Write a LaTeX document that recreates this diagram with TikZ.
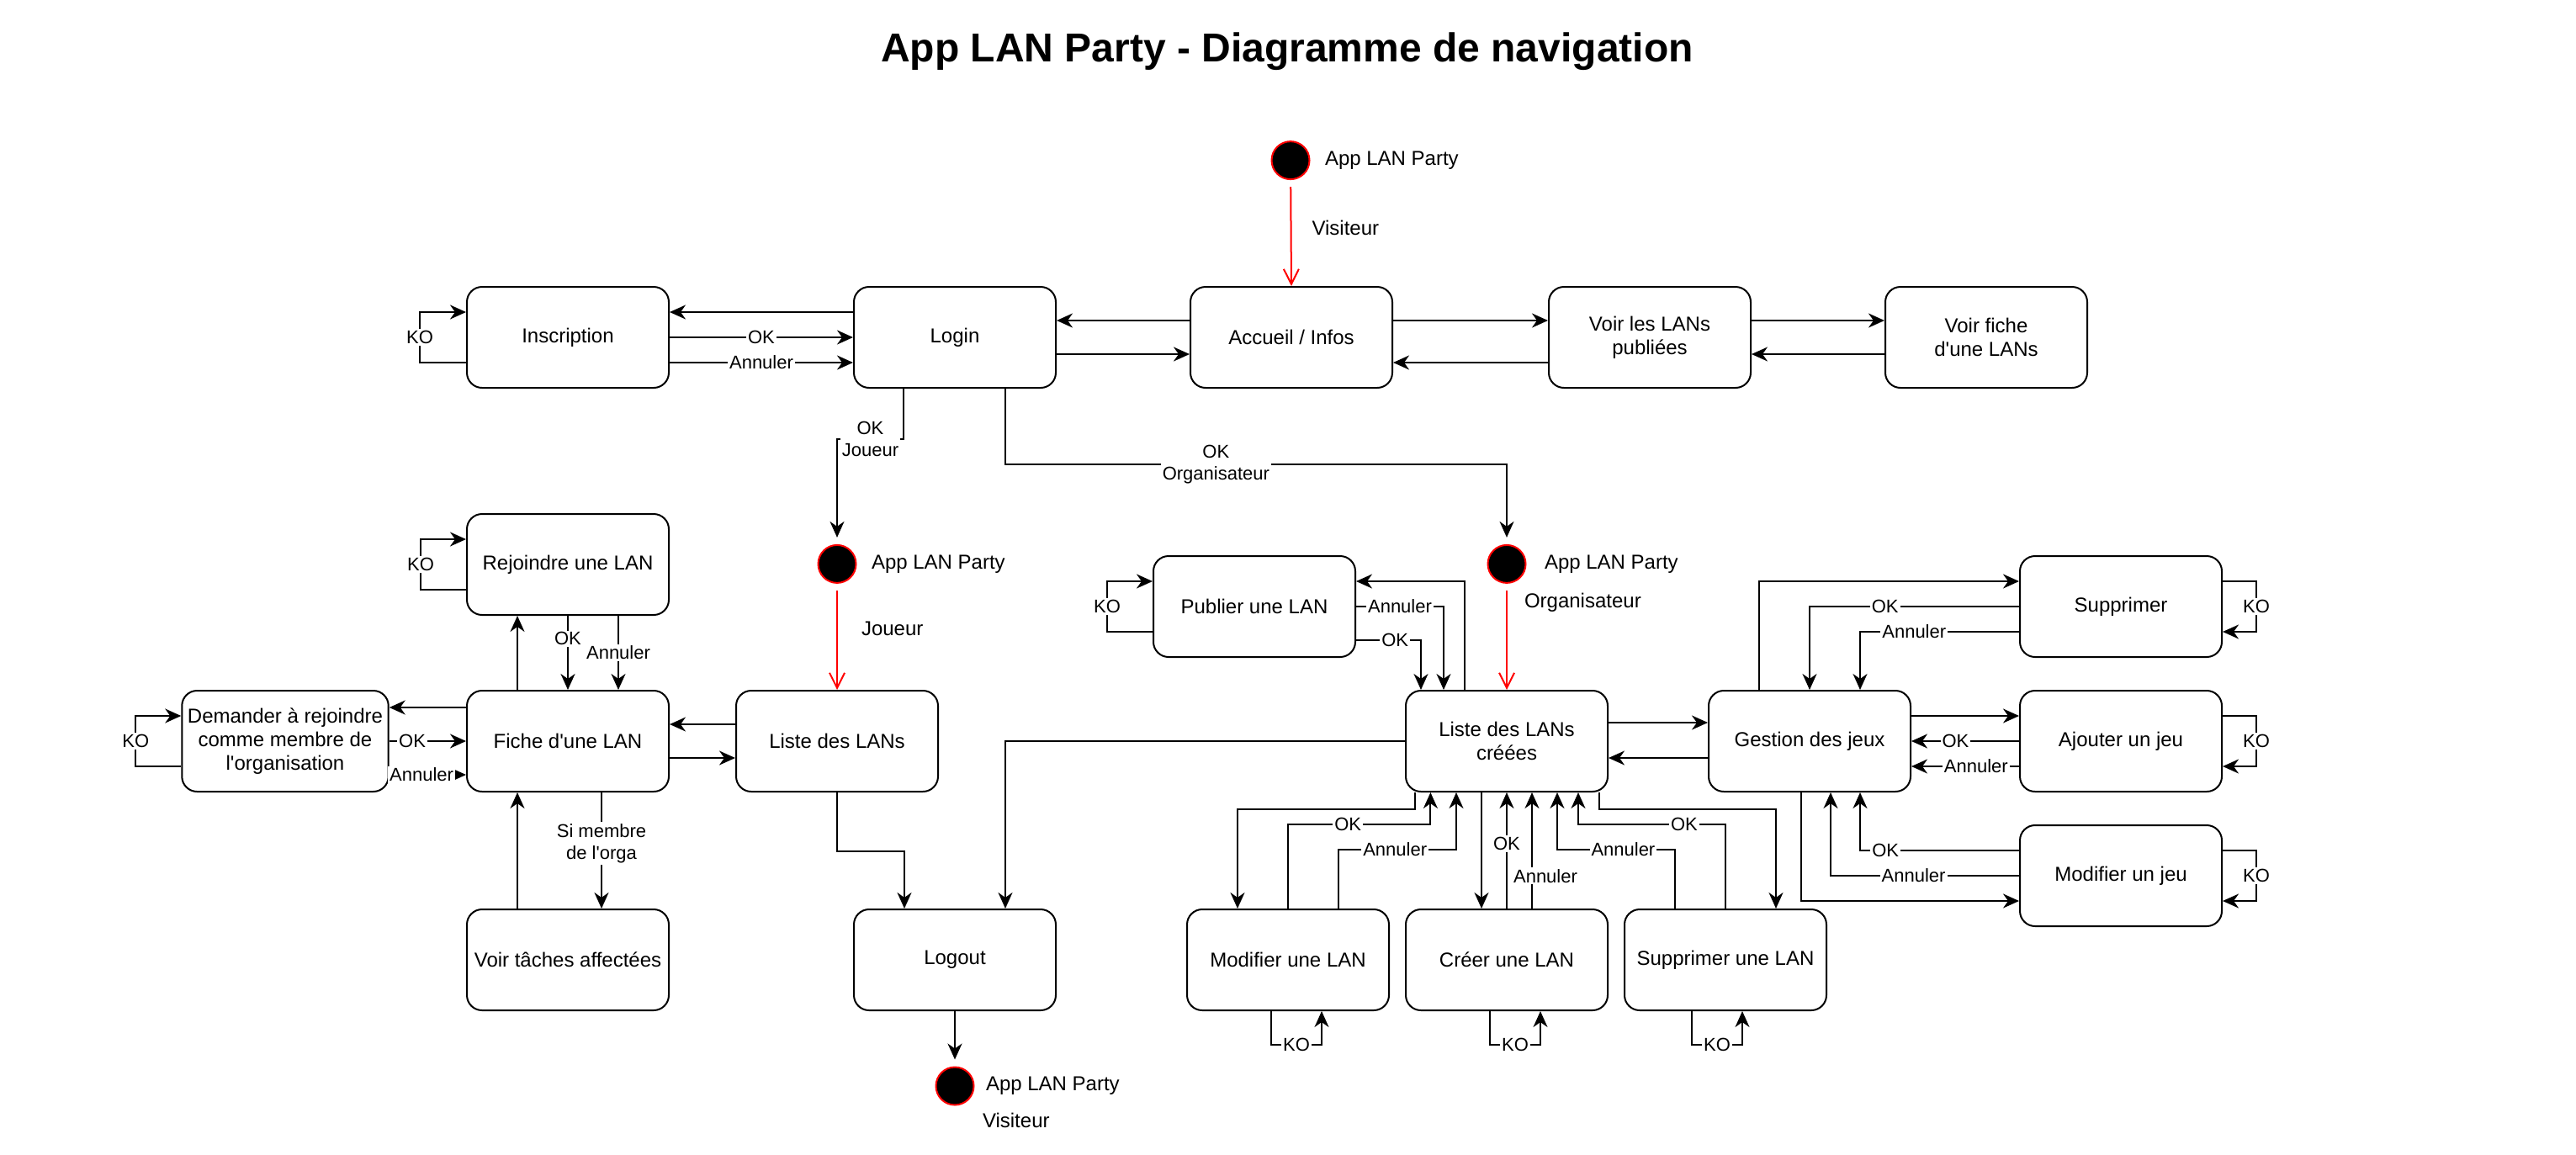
\documentclass[tikz,border=0pt]{standalone}
\usepackage{fontspec}
\setmainfont{Liberation Sans}
\usepackage{tikz}
\usetikzlibrary{arrows.meta, positioning}
\tikzstyle{screen} = [rectangle, draw, rounded corners=9pt, minimum width=120pt, minimum height=60pt, align=center, font=\fontsize{12}{14}\selectfont]
\tikzstyle{startdot} = [circle, draw=red, fill=black, minimum size=22.5pt, inner sep=0pt]
\tikzstyle{caption} = [inner sep=1pt, text=black, font=\fontsize{12}{14}\selectfont]
\tikzstyle{lbl} = [fill=white, inner sep=1pt, align=center, font=\fontsize{11}{13}\selectfont]
\tikzstyle{redarrow} = [red, -{Straight Barb[length=9pt, width=9pt]}, shorten <=4pt]

\begin{document}
\begin{tikzpicture}[x=1pt, y=1pt, line width=1pt, >={Stealth[length=9.5pt, width=8.5pt, inset=3pt]}]

        \useasboundingbox (0,0) rectangle (1531,-686);

        \node[font=\bfseries\fontsize{24}{28}\selectfont] (Title) at (765,-30.5) {App LAN Party - Diagramme de navigation};

        % visiteur
        \node[startdot] (Start) at (767,-95.3) {};
        \node[caption, anchor=west] at (786,-95.3) {App LAN Party};
        \node[screen] at (337.5, -200.5) (Inscription) {Inscription};
        \node[screen] at (567.5, -200.5) (Login) {Login};
        \node[screen] at (767.5, -200.5) (Accueil) {Accueil / Infos};
        \node[screen] at (980.5, -200.5) (VoirLans) {Voir les LANs\\publiées};
        \node[screen] at (1180.5, -200.5) (VoirFiche) {Voir fiche\\d\textquotesingle une LANs};

        % joueur
        \node[startdot] (StartJoueur) at (497.5,-335.2) {};
        \node[caption, anchor=west] at (516.5,-335.2) {App LAN Party};
        \node[screen] at (337.5, -335.5) (Rejoindre) {Rejoindre une LAN};
        \node[screen] at (169.5, -440.5) (Demander) {Demander à rejoindre\\comme membre de\\l\textquotesingle organisation};
        \node[screen] at (337.5, -440.5) (Fiche) {Fiche d\textquotesingle une LAN};
        \node[screen] at (497.5, -440.5) (ListeLans) {Liste des LANs};
        \node[screen] at (337.5, -570.5) (VoirTaches) {Voir tâches affectées};
        \node[screen] at (567.5, -570.5) (Logout) {Logout};
        \node[startdot] (EndVisiteur) at (567.5,-645.5) {};
        \node[caption, anchor=west] at (584.5,-645.5) {App LAN Party};
        \node[caption, anchor=west] at (582.5,-665.7) {Visiteur};

        % organisateur
        \node[startdot] (StartOrga) at (895.5,-335.2) {};
        \node[caption, anchor=west] at (916.5,-335.2) {App LAN Party};
        \node[screen] at (745.5, -360.5) (Publier) {Publier une LAN};
        \node[screen] at (895.5, -440.5) (ListeCreees) {Liste des LANs\\créées};
        \node[screen] at (1075.5, -440.5) (Gestion) {Gestion des jeux};
        \node[screen] at (1260.5, -360.5) (SupprimerJeu) {Supprimer};
        \node[screen] at (1260.5, -440.5) (AjouterJeu) {Ajouter un jeu};
        \node[screen] at (1260.5, -520.5) (ModifierJeu) {Modifier un jeu};
        \node[screen] at (765.5, -570.5) (ModifierLan) {Modifier une LAN};
        \node[screen] at (895.5, -570.5) (CreerLan) {Créer une LAN};
        \node[screen] at (1025.5, -570.5) (SupprimerLan) {Supprimer une LAN};

        % haut
        \draw[redarrow] (Start) -- node[caption, pos=0.45, right=11pt]{Visiteur} (Accueil.north);
        \draw[->] ([yshift=15pt]Login.west) -- ([yshift=15pt]Inscription.east);
        \draw[->] (Inscription.east) -- node[lbl]{OK} (Login.west);
        \draw[->] ([yshift=-15pt]Inscription.east) -- node[lbl]{Annuler} ([yshift=-15pt]Login.west);
        \draw[->] ([yshift=-15pt]Inscription.west) -- ++(-27.5,0) -- node[lbl]{KO} ++(0,30) -- ([yshift=15pt]Inscription.west);
        \draw[->] ([yshift=10pt]Accueil.west) -- ([yshift=10pt]Login.east);
        \draw[->] ([yshift=-10pt]Login.east) -- ([yshift=-10pt]Accueil.west);
        \draw[->] ([yshift=10pt]Accueil.east) -- ([yshift=10pt]VoirLans.west);
        \draw[->] ([yshift=-15pt]VoirLans.west) -- ([yshift=-15pt]Accueil.east);
        \draw[->] ([yshift=10pt]VoirLans.east) -- ([yshift=10pt]VoirFiche.west);
        \draw[->] ([yshift=-10pt]VoirFiche.west) -- ([yshift=-10pt]VoirLans.east);
        \draw[->, shorten >=4pt] ([xshift=-30.5pt]Login.south) -- ++(0,-30) -| node[lbl, pos=0.25]{OK\\Joueur} (StartJoueur.north);
        \draw[->, shorten >=4pt] ([xshift=30pt]Login.south) -- ++(0,-45) -| node[lbl, pos=0.21]{OK\\Organisateur} (StartOrga.north);

        % joueur
        \draw[redarrow] (StartJoueur) -- node[caption, pos=0.42, right=13pt]{Joueur} (ListeLans.north);
        \draw[->] ([xshift=-30pt]Fiche.north) -- ([xshift=-30pt]Rejoindre.south);
        \draw[->] (Rejoindre.south) -- node[lbl, pos=0.31]{OK} (Fiche.north);
        \draw[->] ([xshift=30pt]Rejoindre.south) -- node[lbl]{Annuler} ([xshift=30pt]Fiche.north);
        \draw[->] ([yshift=-15pt]Rejoindre.west) -- ++(-27,0) -- node[lbl]{KO} ++(0,30) -- ([yshift=15pt]Rejoindre.west);
        \draw[->] ([yshift=20pt]Fiche.west) -- ([yshift=20pt]Demander.east);
        \draw[->] (Demander.east) -- node[lbl, pos=0.3]{OK} (Fiche.west);
        \draw[->] ([yshift=-20pt]Demander.east) -- node[lbl, pos=0.42]{Annuler} ([yshift=-20pt]Fiche.west);
        \draw[->] ([yshift=-15pt]Demander.west) -- ++(-27,0) -- node[lbl]{KO} ++(0,30) -- ([yshift=15pt]Demander.west);
        \draw[->] ([yshift=10pt]ListeLans.west) -- ([yshift=10pt]Fiche.east);
        \draw[->] ([yshift=-10pt]Fiche.east) -- ([yshift=-10pt]ListeLans.west);
        \draw[->] ([xshift=-30pt]VoirTaches.north) -- ([xshift=-30pt]Fiche.south);
        \draw[->] ([xshift=20pt]Fiche.south) -- node[lbl, pos=0.44]{Si membre\\de l\textquotesingle orga} ([xshift=20pt]VoirTaches.north);
        \draw[->] (ListeLans.south) -- ++(0,-35) -| ([xshift=-30pt]Logout.north);
        \draw[->] (ListeCreees.west) -| ([xshift=30pt]Logout.north);
        \draw[->, shorten >=4pt] (Logout.south) -- (EndVisiteur.north);

        % organisateur
        \draw[redarrow] (StartOrga) -- node[caption, pos=0.18, right=9pt]{Organisateur} (ListeCreees.north);
        \draw[->] ([yshift=-15pt]Publier.west) -- ++(-27,0) -- node[lbl]{KO} ++(0,30) -- ([yshift=15pt]Publier.west);
        \draw[->] ([xshift=-25pt]ListeCreees.north) |- ([yshift=15pt]Publier.east);
        \draw[->] (Publier.east) -| node[lbl, pos=0.25]{Annuler} ([xshift=-37.5pt]ListeCreees.north);
        \draw[->] ([yshift=-20pt]Publier.east) -| node[lbl, pos=0.3]{OK} ([xshift=-51pt]ListeCreees.north);
        \draw[->] ([yshift=11pt]ListeCreees.east) -- ([yshift=11pt]Gestion.west);
        \draw[->] ([yshift=-10pt]Gestion.west) -- ([yshift=-10pt]ListeCreees.east);

        \draw[->] ([xshift=-54.75pt]ListeCreees.south) -- ++(0,-10) -| ([xshift=-30pt]ModifierLan.north);
        \draw[->] (ModifierLan.north) -- ++(0,50) -| node[lbl, pos=0.21]{OK} ([xshift=-45.3pt]ListeCreees.south);
        \draw[->] ([xshift=30pt]ModifierLan.north) -- ++(0,35) -| node[lbl, pos=0.24]{Annuler} ([xshift=-30pt]ListeCreees.south);
        \draw[->] ([xshift=-15pt]ListeCreees.south) -- ([xshift=-15pt]CreerLan.north);
        \draw[->] (CreerLan.north) -- node[lbl, pos=0.56]{OK} (ListeCreees.south);
        \draw[->] ([xshift=15pt]CreerLan.north) -- node[lbl, pos=0.28, xshift=8pt]{Annuler} ([xshift=15pt]ListeCreees.south);
        \draw[->] ([xshift=55pt]ListeCreees.south) -- ++(0,-10) -| ([xshift=30pt]SupprimerLan.north);
        \draw[->] (SupprimerLan.north) -- ++(0,50) -| node[lbl, pos=0.14]{OK} ([xshift=42.5pt]ListeCreees.south);
        \draw[->] ([xshift=-30pt]SupprimerLan.north) -- ++(0,35) -| node[lbl, pos=0.22]{Annuler} ([xshift=30pt]ListeCreees.south);
        \draw[->] ([xshift=-10pt]ModifierLan.south) -- ++(0,-20) -- node[lbl]{KO} ++(30,0) -- ([xshift=20pt]ModifierLan.south);
        \draw[->] ([xshift=-10pt]CreerLan.south) -- ++(0,-20) -- node[lbl]{KO} ++(30,0) -- ([xshift=20pt]CreerLan.south);
        \draw[->] ([xshift=-20pt]SupprimerLan.south) -- ++(0,-20) -- node[lbl]{KO} ++(30,0) -- ([xshift=10pt]SupprimerLan.south);

        % jeux
        \draw[->] ([xshift=-30pt]Gestion.north) |- ([yshift=15pt]SupprimerJeu.west);
        \draw[->] (SupprimerJeu.west) -| node[lbl, pos=0.32]{OK} (Gestion.north);
        \draw[->] ([yshift=-15pt]SupprimerJeu.west) -| node[lbl, pos=0.33]{Annuler} ([xshift=30pt]Gestion.north);
        \draw[->] ([yshift=15pt]SupprimerJeu.east) -- ++(20,0) -- node[lbl]{KO} ++(0,-30) -- ([yshift=-15pt]SupprimerJeu.east);
        \draw[->] ([yshift=15pt]Gestion.east) -- ([yshift=15pt]AjouterJeu.west);
        \draw[->] (AjouterJeu.west) -- node[lbl, pos=0.59]{OK} (Gestion.east);
        \draw[->] ([yshift=-15pt]AjouterJeu.west) -- node[lbl, pos=0.4]{Annuler} ([yshift=-15pt]Gestion.east);
        \draw[->] ([yshift=15pt]AjouterJeu.east) -- ++(20,0) -- node[lbl]{KO} ++(0,-30) -- ([yshift=-15pt]AjouterJeu.east);
        \draw[->] ([xshift=-5pt]Gestion.south) |- ([yshift=-15pt]ModifierJeu.west);
        \draw[->] ([yshift=15pt]ModifierJeu.west) -| node[lbl, pos=0.42]{OK} ([xshift=30pt]Gestion.south);
        \draw[->] (ModifierJeu.west) -| node[lbl, pos=0.28]{Annuler} ([xshift=12.5pt]Gestion.south);
        \draw[->] ([yshift=15pt]ModifierJeu.east) -- ++(20,0) -- node[lbl]{KO} ++(0,-30) -- ([yshift=-15pt]ModifierJeu.east);

    \end{tikzpicture}
\end{document}
